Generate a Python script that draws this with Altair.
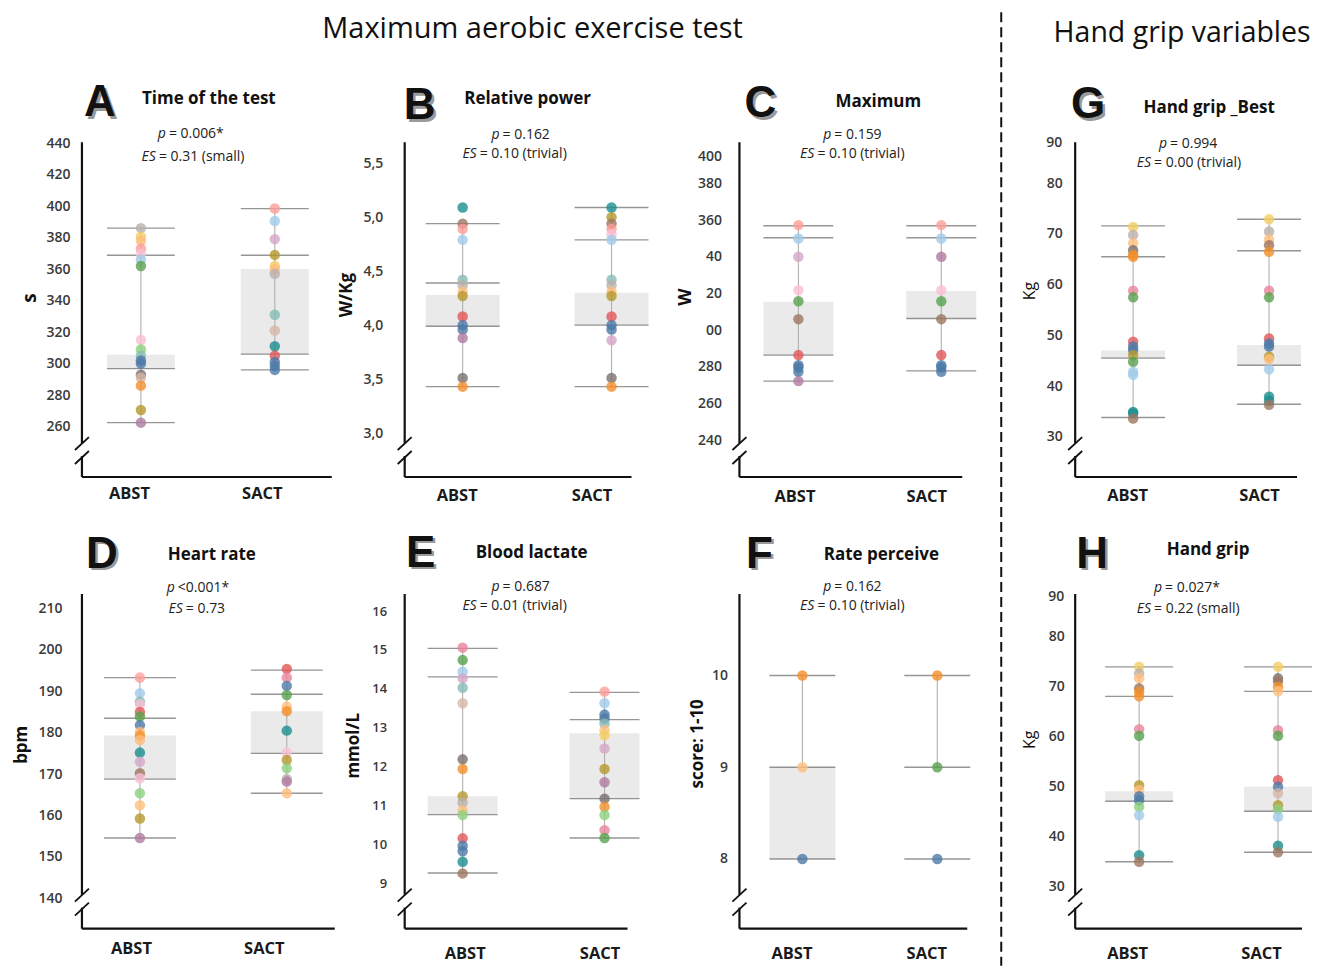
import altair as alt
import pandas as pd

FONT = "Open Sans"
GROUPS = ["ABST", "SACT"]

COLOR_KEYS = ["red", "salmon", "rose", "pink", "blue", "lblue", "teal", "lteal", "green", "lgreen",
              "orange", "lorange", "yellow", "olive", "mauve", "lmauve", "brown", "tan", "gray", "lgray"]
COLOR_HEX = ["#e15759", "#ff9d9a", "#e8849b", "#fabfd2", "#4e79a7", "#a0cbe8", "#1b8e8e", "#86bcb6", "#59a14f", "#8cd17d",
             "#f28e2b", "#ffbe7d", "#f1ce63", "#b6992d", "#b07aa1", "#d4a6c8", "#9d7660", "#d7b5a6", "#79706e", "#bab0ac"]

# ---------------- A: Time of the test (s)
A_ABST = [386, 380.5, 378, 373, 369.5, 366, 362, 315, 309, 305, 302, 300, 293, 291, 286, 270.5, 262.5]
A_ABST_C = ["lgray", "yellow", "lorange", "salmon", "pink", "lblue", "green", "pink", "lgreen", "lteal", "blue", "blue", "gray", "tan", "orange", "olive", "mauve"]
A_SACT = [398.5, 390.5, 379, 369, 362, 360, 357, 331, 321, 311, 305, 301, 298.5, 296]
A_SACT_C = ["salmon", "lblue", "lmauve", "olive", "yellow", "lorange", "lgray", "lteal", "tan", "teal", "red", "blue", "blue", "blue"]
A_LINES = [[386, 368.8, 296.8, 262.5], [398.4, 368.8, 306, 296]]
A_BOX = [[296.8, 305.6], [306, 360]]
A_WHISK = [[262.5, 386], [296, 398.4]]

# ---------------- B: Relative power (W/Kg)
B_ABST = [5.09, 4.94, 4.89, 4.79, 4.42, 4.37, 4.31, 4.27, 4.08, 4.00, 3.96, 3.88, 3.51, 3.43]
B_ABST_C = ["teal", "brown", "salmon", "lblue", "lteal", "lgray", "lorange", "olive", "red", "blue", "blue", "mauve", "gray", "orange"]
B_SACT = [5.09, 5.00, 4.94, 4.89, 4.84, 4.79, 4.42, 4.37, 4.31, 4.27, 4.08, 4.00, 3.96, 3.86, 3.51, 3.43]
B_SACT_C = ["teal", "olive", "brown", "salmon", "pink", "lblue", "lteal", "lgray", "lorange", "olive", "red", "blue", "blue", "lmauve", "gray", "orange"]
B_LINES = [[4.94, 4.39, 3.99, 3.43], [5.09, 4.79, 4.00, 3.43]]
B_BOX = [[3.99, 4.28], [4.00, 4.30]]
B_WHISK = [[3.43, 4.94], [3.43, 5.09]]

# ---------------- C: Maximum (W)
C_ABST = [357.3, 350, 340, 321.8, 315.8, 306, 286.4, 280.9, 279.6, 277.3, 272.2]
C_ABST_C = ["salmon", "lblue", "lmauve", "pink", "green", "brown", "red", "blue", "blue", "blue", "mauve"]
C_SACT = [357.3, 350, 340, 321.8, 315.8, 306, 286.4, 280.9, 279.6, 277.3]
C_SACT_C = ["salmon", "lblue", "mauve", "pink", "green", "brown", "red", "blue", "blue", "blue"]
C_LINES = [[357, 350.4, 286.4, 272.2], [357, 350.4, 306.4, 277.8]]
C_BOX = [[286.4, 315.5], [306.4, 321.3]]
C_WHISK = [[272.2, 357], [277.8, 357]]

# ---------------- G: Hand grip _Best (Kg)
G_ABST = [71.4, 69.8, 68.2, 66.8, 65.9, 65.5, 58.8, 57.5, 48.75, 47.8, 47.1, 46.1, 44.8, 42.8, 42.2, 34.9, 34.6, 33.6]
G_ABST_C = ["yellow", "lgray", "lorange", "gray", "orange", "orange", "rose", "green", "red", "blue", "blue", "olive", "green", "lblue", "lblue", "teal", "teal", "brown"]
G_SACT = [72.9, 70.5, 68.9, 67.8, 66.5, 58.8, 57.5, 49.4, 48.4, 47.8, 45.8, 45.3, 43.3, 37.9, 37.1, 36.3]
G_SACT_C = ["yellow", "lgray", "lorange", "brown", "orange", "rose", "green", "red", "blue", "blue", "olive", "lorange", "lblue", "teal", "teal", "brown"]
G_LINES = [[71.6, 65.5, 45.5, 33.8], [72.9, 66.7, 44.1, 36.4]]
G_BOX = [[45.5, 47.0], [44.1, 48.1]]
G_WHISK = [[33.8, 71.6], [36.4, 72.9]]

# ---------------- D: Heart rate (bpm)
D_ABST = [193.3, 189.5, 187.5, 186.8, 185, 183.9, 181.8, 180.2, 179.3, 178.2, 175.2, 173, 170.2, 169, 165.4, 162.5, 159.3, 154.6]
D_ABST_C = ["salmon", "lblue", "lteal", "pink", "red", "green", "blue", "lorange", "orange", "lorange", "teal", "lmauve", "brown", "pink", "lgreen", "lorange", "olive", "mauve"]
D_SACT = [195.4, 193.3, 191.3, 189.1, 186.3, 185.2, 180.5, 175.2, 173.4, 171.4, 168.8, 168.2, 165.4]
D_SACT_C = ["red", "rose", "blue", "green", "lorange", "orange", "teal", "pink", "olive", "lgreen", "lgray", "mauve", "lorange"]
D_LINES = [[193.3, 183.5, 168.8, 154.6], [195.1, 189.3, 175, 165.4]]
D_BOX = [[168.8, 179.3], [175, 185.2]]
D_WHISK = [[154.6, 193.3], [165.4, 195.1]]

# ---------------- E: Blood lactate (mmol/L)
E_ABST = [15.06, 14.74, 14.44, 14.27, 14.03, 13.63, 12.19, 11.94, 11.24, 11.08, 10.88, 10.76, 10.16, 9.97, 9.83, 9.56, 9.26]
E_ABST_C = ["rose", "green", "lblue", "lmauve", "lteal", "tan", "gray", "orange", "olive", "lgray", "lorange", "lgreen", "red", "blue", "blue", "teal", "brown"]
E_SACT = [13.93, 13.63, 13.34, 13.24, 13.11, 12.94, 12.81, 12.47, 11.94, 11.6, 11.18, 10.97, 10.76, 10.37, 10.17]
E_SACT_C = ["salmon", "lblue", "blue", "blue", "lteal", "lorange", "yellow", "lmauve", "olive", "mauve", "gray", "orange", "lgreen", "rose", "green"]
E_LINES = [[15.04, 14.31, 10.77, 9.27], [13.91, 13.21, 11.18, 10.17]]
E_BOX = [[10.77, 11.24], [11.18, 12.86]]
E_WHISK = [[9.27, 15.04], [10.17, 13.91]]

# ---------------- F: Rate perceive (score 1-10)
F_ABST = [10, 9, 8]
F_ABST_C = ["orange", "lorange", "blue"]
F_SACT = [10, 9, 8]
F_SACT_C = ["orange", "green", "blue"]
F_LINES = [[10, 9, 8], [10, 9, 8]]
F_BOX = [[8, 9], None]
F_WHISK = [[9, 10], [9, 10]]

# ---------------- H: Hand grip (Kg)
H_ABST = [74, 72.7, 71.7, 69.7, 69, 68.1, 61.5, 60.2, 50.3, 49.3, 48.1, 47.3, 46, 44.3, 36.3, 35]
H_ABST_C = ["yellow", "lgray", "lorange", "brown", "orange", "orange", "rose", "green", "olive", "lorange", "blue", "blue", "lgreen", "lblue", "teal", "brown"]
H_SACT = [74, 71.7, 71.1, 70, 69.1, 61.3, 60.2, 51.3, 50, 48.7, 46.3, 45.5, 44, 38.2, 36.9]
H_SACT_C = ["yellow", "gray", "brown", "orange", "lorange", "rose", "green", "red", "blue", "tan", "olive", "lgreen", "lblue", "teal", "brown"]
H_LINES = [[74, 68.1, 47.1, 35], [74, 69.1, 45.1, 36.9]]
H_BOX = [[47.1, 49.1], [45.1, 50]]
H_WHISK = [[35, 74], [36.9, 74]]

# tick labels
A_TICKS = [260, 280, 300, 320, 340, 360, 380, 400, 420, 440]
B_TICKS = [3.0, 3.5, 4.0, 4.5, 5.0, 5.5]
C_TICKS = [240, 260, 280, 300, 320, 340, 360, 380, 400]
G_TICKS = [30, 40, 50, 60, 70, 80]
D_TICKS = [140, 150, 160, 170, 180, 190, 200, 210]
E_TICKS = [9, 10, 11, 12, 13, 14, 15, 16]
F_TICKS = [8, 9, 10]
H_TICKS = [30, 40, 50, 60, 70, 80]
TOP_TICK_LABEL = "90"

ONE = alt.InlineData(values=[{"k": 0}])
HGT = 335


def txt(x, y, s, size, weight="normal", style="normal", align="center", color="#222", angle=0, font=FONT):
    return alt.Chart(ONE).mark_text(text=s, fontSize=size, fontWeight=weight, fontStyle=style, align=align,
                                    baseline="middle", font=font, color=color, angle=angle).encode(
        x=alt.value(x), y=alt.value(y))


def seg(x1, y1, x2, y2, color="#111", width=2.2, dash=None, opacity=1.0):
    kw = dict(color=color, strokeWidth=width, opacity=opacity)
    if dash:
        kw["strokeDash"] = dash
    return alt.Chart(ONE).mark_rule(**kw).encode(x=alt.value(x1), y=alt.value(y1), x2=alt.value(x2), y2=alt.value(y2))


def panel(c, abst, abst_c, sact, sact_c, lines, box, whisk, extra=()):
    dots = pd.DataFrame({"g": ["ABST"] * len(abst) + ["SACT"] * len(sact), "v": abst + sact, "c": abst_c + sact_c})
    lns = pd.DataFrame({"g": ["ABST"] * len(lines[0]) + ["SACT"] * len(lines[1]), "v": lines[0] + lines[1]})
    bxs = pd.DataFrame([{"g": g, "lo": b[0], "hi": b[1]} for g, b in zip(GROUPS, box) if b])
    wsk = pd.DataFrame([{"g": g, "lo": w[0], "hi": w[1]} for g, w in zip(GROUPS, whisk)])

    xoff = {"condition": {"test": "datum.value === 'ABST'", "value": c["xlo"][0]}, "value": c["xlo"][1]}
    xaxis = alt.Axis(title=None, domain=False, ticks=False, grid=False, labelAngle=0, labelFont=FONT,
                     labelFontSize=16.5, labelFontWeight="bold", labelColor="#1a1a1a",
                     labelPadding=c["xpad"], labelOffset=xoff)
    X = alt.X("g:N", scale=alt.Scale(type="point", domain=GROUPS, range=c["xpos"], padding=0), axis=xaxis)

    ykw = dict(title=None, domain=False, ticks=False, grid=False, values=c["ticks"], labelFont=FONT,
               labelFontSize=c["yls"], labelFontWeight=600, labelColor="#3a3a3a", labelPadding=c["ypad"])
    if "lexpr" in c:
        ykw["labelExpr"] = c["lexpr"]
    if "yoff" in c:
        ykw["labelOffset"] = {"condition": {"test": "datum.value == %s" % c["yoff"][0], "value": c["yoff"][1]},
                              "value": 0}
    yaxis = alt.Axis(**ykw)
    ys = alt.Scale(domain=c["dom"], nice=False, zero=False)

    layers = []
    if len(bxs):
        layers.append(alt.Chart(bxs).mark_bar(size=2 * c["hw"], color="#eaeaea").encode(
            x=X, y=alt.Y("lo:Q", scale=ys, axis=yaxis), y2="hi:Q"))
    layers.append(alt.Chart(wsk).mark_rule(color="#b0b0b0", strokeWidth=1.1).encode(
        x=X, y=alt.Y("lo:Q", scale=ys, axis=yaxis), y2="hi:Q"))
    layers.append(alt.Chart(lns).mark_tick(size=2 * c["hw"], thickness=1.4, color="#6a6a6a").encode(
        x=X, y=alt.Y("v:Q", scale=ys, axis=yaxis)))
    layers.append(alt.Chart(dots).mark_circle(size=110, opacity=0.8).encode(
        x=X, y=alt.Y("v:Q", scale=ys, axis=yaxis),
        color=alt.Color("c:N", scale=alt.Scale(domain=COLOR_KEYS, range=COLOR_HEX), legend=None)))

    H = HGT
    layers += [seg(0, 0, 0, H - 34), seg(0, H - 21, 0, H), seg(0, H, c["axl"], H),
               seg(-7, H - 27, 7, H - 40, width=1.8), seg(-7, H - 13, 7, H - 26, width=1.8)]

    if "top_label" in c:
        tlx, tly = c["top_label"]
        layers.append(txt(tlx, tly, TOP_TICK_LABEL, c["yls"], weight=600, align="right", color="#3a3a3a"))

    lx, ly = c["letter_pos"]
    layers += [txt(lx + 2.5, ly + 2.5, c["letter"], 44, weight="bold", color="#9a9a9a", font="Liberation Sans"),
               txt(lx, ly, c["letter"], 44, weight="bold", color="#111111", font="Liberation Sans")]
    tx, ty = c["title_pos"]
    layers.append(txt(tx, ty, c["title"], 17, weight="bold", color="#111111"))
    px, py = c["p_pos"]
    layers += [txt(px, py, c["p"][0], 14, style="italic", align="right"),
               txt(px + 3, py, c["p"][1], 14, align="left")]
    ex, ey = c["es_pos"]
    layers += [txt(ex, ey, c["es"][0], 14, style="italic", align="right"),
               txt(ex + 3, ey, c["es"][1], 14, align="left")]
    yx, yy = c["yt_pos"]
    layers.append(txt(yx, yy, c["yt"], c["yts"], weight=c["ytw"], angle=270, color="#111111"))
    layers += list(extra)
    return alt.layer(*layers).properties(width=c["W"], height=H)


CFG = {
    "A": dict(W=323, xpos=[59, 193], hw=34, axl=250, dom=[228, 440.5], ticks=A_TICKS, xlo=(-12, -13), xpad=9,
              ypad=12, yls=14, letter="A", letter_pos=(18, -39), title="Time of the test",
              title_pos=(127, -43), p=("p", "= 0.006*"), p_pos=(84, -8), es=("ES", "= 0.31 (small)"),
              es_pos=(74, 15), yt="s", yt_pos=(-52, 156), yts=19, ytw="bold"),
    "B": dict(W=335, xpos=[58, 207], hw=37, axl=227, dom=[2.593, 5.694], ticks=B_TICKS, xlo=(-6, -20), xpad=11,
              ypad=22, yls=14, lexpr="replace(format(datum.value, '.1f'), '.', ',')", letter="B",
              letter_pos=(15, -36), title="Relative power", title_pos=(123, -43), p=("p", "= 0.162"),
              p_pos=(95, -7), es=("ES", "= 0.10 (trivial)"), es_pos=(72, 12), yt="W/Kg", yt_pos=(-58, 153),
              yts=17, ytw="bold"),
    "C": dict(W=336, xpos=[59, 202], hw=35, axl=223, dom=[219.9, 402.5], ticks=C_TICKS, xlo=(-4, -15), xpad=12,
              ypad=18, yls=14,
              lexpr="(datum.value >= 300 && datum.value <= 340) ? (datum.value == 300 ? '00' : toString(datum.value - 300)) : datum.label",
              yoff=(400, 10), letter="C", letter_pos=(21, -38), title="Maximum", title_pos=(139, -40),
              p=("p", "= 0.159"), p_pos=(92, -7), es=("ES", "= 0.10 (trivial)"), es_pos=(75, 12), yt="W",
              yt_pos=(-53, 155), yts=18, ytw="bold"),
    "G": dict(W=230, xpos=[58, 194], hw=32, axl=222, dom=[22.05, 88.1], ticks=G_TICKS, xlo=(-6, -10), xpad=11,
              ypad=13, yls=14, top_label=(-13, 1), letter="G", letter_pos=(13, -37),
              title="Hand grip _Best", title_pos=(134, -34), p=("p", "= 0.994"), p_pos=(92, 2),
              es=("ES", "= 0.00 (trivial)"), es_pos=(76, 21), yt="Kg", yt_pos=(-45, 149), yts=16, ytw="normal"),
    "D": dict(W=323, xpos=[58, 205], hw=36, axl=253, dom=[132.7, 213.5], ticks=D_TICKS, xlo=(-9, -23), xpad=12,
              ypad=20, yls=14, letter="D", letter_pos=(20, -39), title="Heart rate",
              title_pos=(130, -39), p=("p", "<0.001*"), p_pos=(93, -6), es=("ES", "= 0.73"), es_pos=(101, 15),
              yt="bpm", yt_pos=(-60, 151), yts=17, ytw="bold"),
    "E": dict(W=335, xpos=[58, 200], hw=35, axl=223, dom=[7.84, 16.44], ticks=E_TICKS, xlo=(2, -5), xpad=17,
              ypad=18, yls=13, letter="E", letter_pos=(16, -40), title="Blood lactate",
              title_pos=(127, -41), p=("p", "= 0.687"), p_pos=(95, -7), es=("ES", "= 0.01 (trivial)"),
              es_pos=(72, 12), yt="mmol/L", yt_pos=(-51, 152), yts=17, ytw="bold"),
    "F": dict(W=336, xpos=[63, 198], hw=33, axl=228, dom=[7.24, 10.89], ticks=F_TICKS, xlo=(-11, -11), xpad=17,
              ypad=12, yls=14, letter="F", letter_pos=(20, -39), title="Rate perceive",
              title_pos=(142, -39), p=("p", "= 0.162"), p_pos=(92, -7), es=("ES", "= 0.10 (trivial)"),
              es_pos=(75, 12), yt="score: 1-10", yt_pos=(-41, 150), yts=17, ytw="bold"),
    "H": dict(W=230, xpos=[64, 203], hw=34, axl=227, dom=[21.6, 88.6], ticks=H_TICKS, xlo=(-12, -17), xpad=17,
              ypad=11, yls=14, top_label=(-11, 3), letter="H", letter_pos=(17, -39),
              title="Hand grip", title_pos=(133, -44), p=("p", "= 0.027*"), p_pos=(87, -6),
              es=("ES", "= 0.22 (small)"), es_pos=(76, 15), yt="Kg", yt_pos=(-45, 146), yts=16, ytw="normal"),
}

extra_A = [seg(-74, -134, -73, -134, opacity=0.0),
           txt(451, -113, "Maximum aerobic exercise test", 29, color="#111111")]
extra_C = [seg(262, -130, 262, 824, width=2, dash=[10, 5])]
extra_G = [txt(107, -109, "Hand grip variables", 28.5, color="#111111")]

pA = panel(CFG["A"], A_ABST, A_ABST_C, A_SACT, A_SACT_C, A_LINES, A_BOX, A_WHISK, extra_A)
pB = panel(CFG["B"], B_ABST, B_ABST_C, B_SACT, B_SACT_C, B_LINES, B_BOX, B_WHISK)
pC = panel(CFG["C"], C_ABST, C_ABST_C, C_SACT, C_SACT_C, C_LINES, C_BOX, C_WHISK, extra_C)
pG = panel(CFG["G"], G_ABST, G_ABST_C, G_SACT, G_SACT_C, G_LINES, G_BOX, G_WHISK, extra_G)
pD = panel(CFG["D"], D_ABST, D_ABST_C, D_SACT, D_SACT_C, D_LINES, D_BOX, D_WHISK)
pE = panel(CFG["E"], E_ABST, E_ABST_C, E_SACT, E_SACT_C, E_LINES, E_BOX, E_WHISK)
pF = panel(CFG["F"], F_ABST, F_ABST_C, F_SACT, F_SACT_C, F_LINES, F_BOX, F_WHISK)
pH = panel(CFG["H"], H_ABST, H_ABST_C, H_SACT, H_SACT_C, H_LINES, H_BOX, H_WHISK)

row1 = alt.hconcat(pA, pB, pC, pG, spacing=0, bounds="flush")
row2 = alt.hconcat(pD, pE, pF, pH, spacing=0, bounds="flush")
chart = alt.vconcat(row1, row2, spacing=452, bounds="flush").properties(padding=0).configure_view(stroke=None)

chart.save("out.html", embed_options={"renderer": "svg", "actions": False})
